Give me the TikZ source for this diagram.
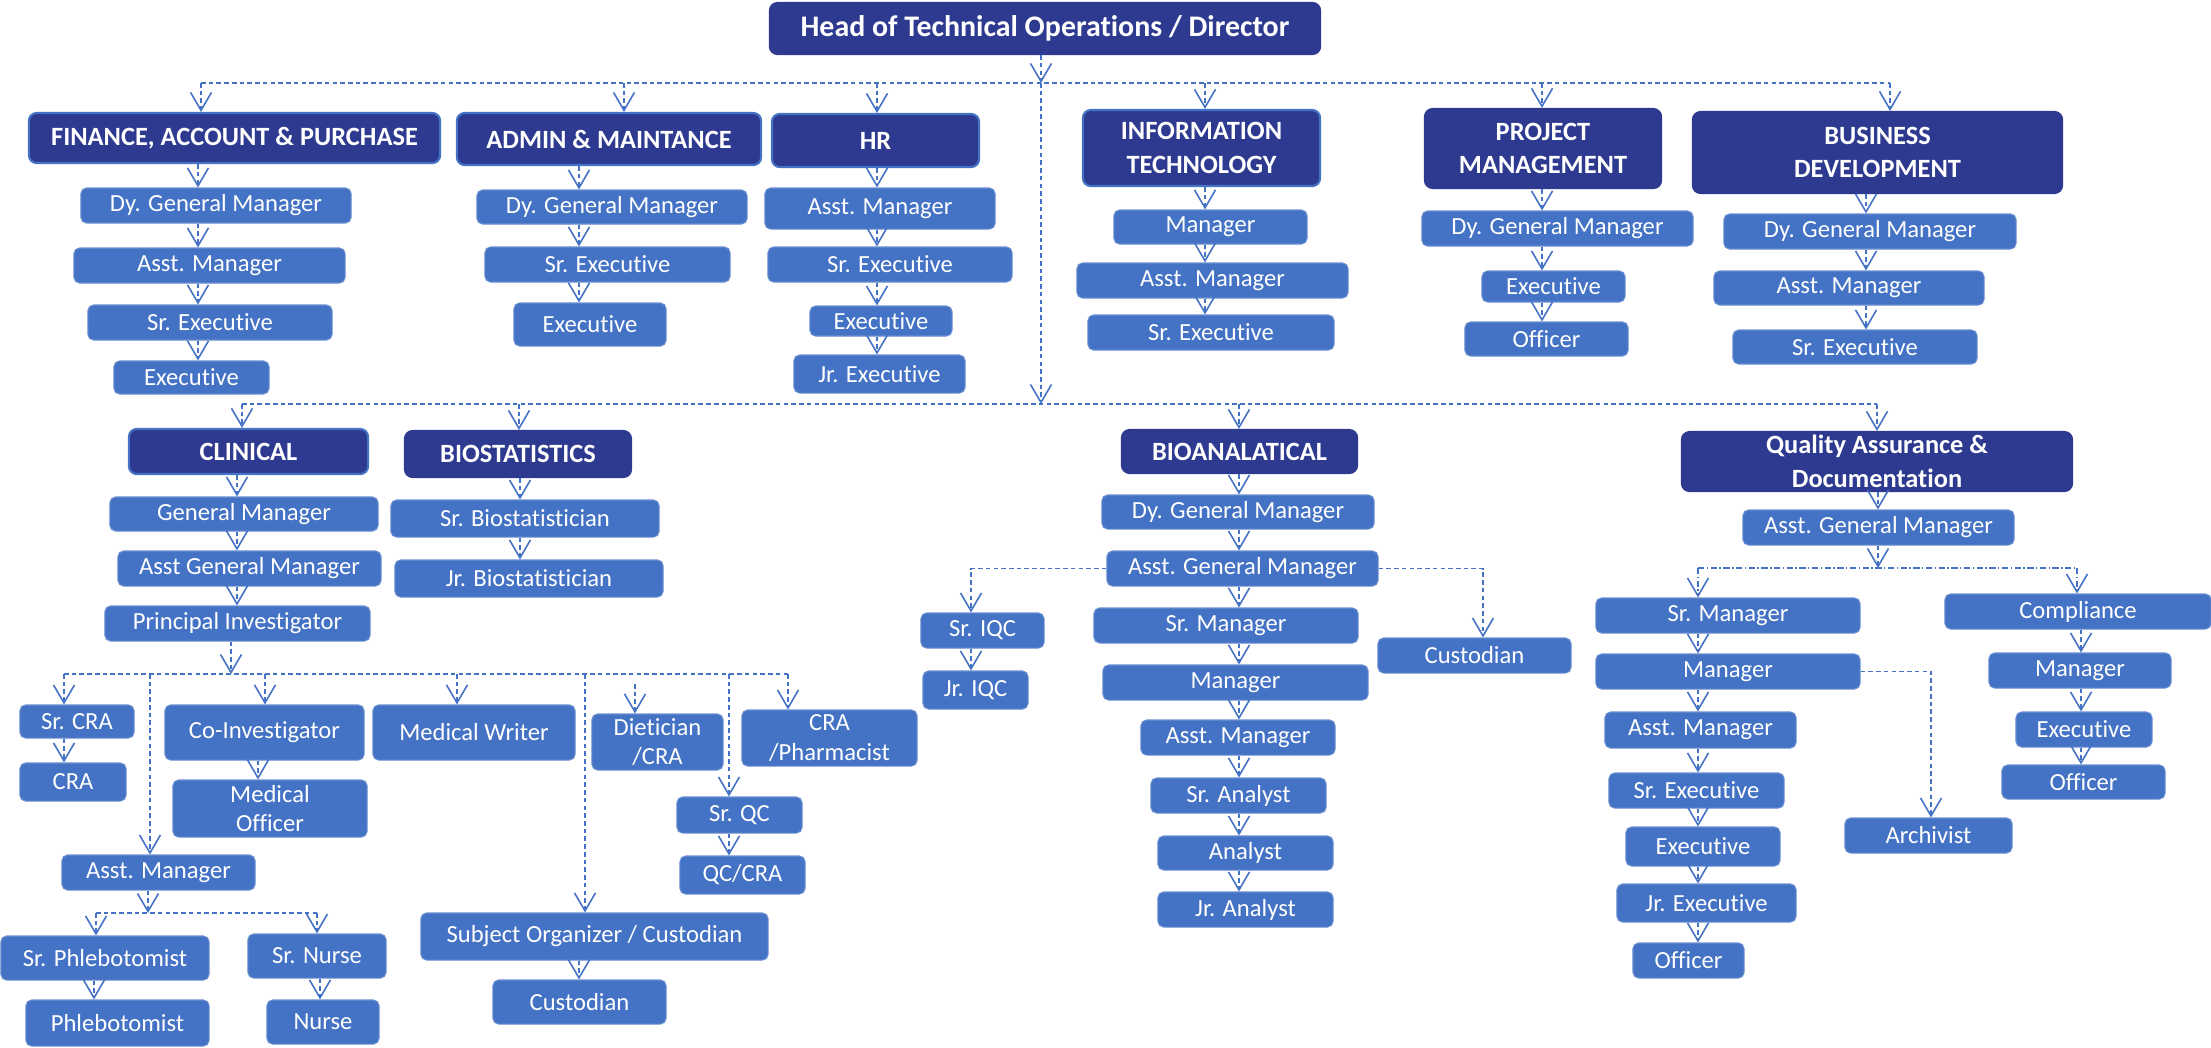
\documentclass[tikz,border=0pt]{standalone}
\usepackage{fontspec}
\setmainfont{Carlito}[Ligatures={NoCommon,NoContextual}]
\usetikzlibrary{arrows.meta}
\definecolor{navy}{HTML}{2E3A8F}
\definecolor{ofblue}{HTML}{4472C4}
\tikzset{
  post/.style={rounded corners=1.6pt,fill=ofblue,draw=ofblue!80!white,line width=0.3pt,text=white,
    font=\fontsize{7}{8.5}\selectfont,align=center,inner sep=0pt,minimum height=3.5mm},
  dept/.style={rounded corners=2.2pt,fill=navy,draw=navy,line width=0.6pt,text=white,
    font=\bfseries\fontsize{7.5}{9.5}\selectfont,align=center,inner sep=0pt},
  rim/.style={draw=ofblue},
  bus/.style={draw=ofblue,line width=0.4pt,dash pattern=on 1.3pt off 0.9pt},
  link/.style={bus,-{Straight Barb[length=1.8mm,width=2.1mm,line width=0.45pt]}},
}
\begin{document}
\begin{tikzpicture}[x=0.01cm,y=-0.01cm]
\useasboundingbox (0,0) rectangle (2211,1047);
%% director
\node[dept,minimum width=55cm/10,minimum height=5.1mm,font=\bfseries\fontsize{8.5}{10}\selectfont] (head) at (1045,28.5) {Head of Technical Operations / Director};
%% upper departments
\node[dept,rim,minimum width=41.1mm,minimum height=5mm] (fin) at (234.5,138) {FINANCE, ACCOUNT \& PURCHASE};
\node[dept,rim,minimum width=30.4mm,minimum height=5.2mm] (adm) at (609,139) {ADMIN \& MAINTANCE};
\node[dept,rim,minimum width=20.7mm,minimum height=5.3mm] (hr) at (875.5,140.5) {HR};
\node[dept,rim,minimum width=23.7mm,minimum height=7.6mm] (it) at (1201.5,148) {INFORMATION\\TECHNOLOGY};
\node[dept,minimum width=23.6mm,minimum height=7.9mm] (pm) at (1543,148.5) {PROJECT\\MANAGEMENT};
\node[dept,minimum width=36.9mm,minimum height=8.1mm] (bd) at (1877.5,152.5) {BUSINESS\\DEVELOPMENT};
%% finance
\node[post,minimum width=27mm] (fin1) at (216,205.5) {Dy. General Manager};
\node[post,minimum width=27.1mm] (fin2) at (209.5,265.5) {Asst. Manager};
\node[post,minimum width=24.4mm] (fin3) at (210,322.5) {Sr. Executive};
\node[post,minimum width=15.5mm,minimum height=3.3mm] (fin4) at (191.5,377.5) {Executive};
%% admin
\node[post,minimum width=27mm,minimum height=3.4mm] (adm1) at (612,207) {Dy. General Manager};
\node[post,minimum width=24.5mm] (adm2) at (607.5,264.5) {Sr. Executive};
\node[post,minimum width=15.2mm,minimum height=4.3mm] (adm3) at (590,324.5) {Executive};
%% hr
\node[post,minimum width=23mm,minimum height=4.1mm] (hr1) at (880,208.5) {Asst. Manager};
\node[post,minimum width=24.4mm] (hr2) at (890,264.5) {Sr. Executive};
\node[post,minimum width=14.2mm,minimum height=3mm] (hr3) at (881,321) {Executive};
\node[post,minimum width=17.1mm,minimum height=3.8mm] (hr4) at (879.5,374) {Jr. Executive};
%% it
\node[post,minimum width=19.3mm,minimum height=3.4mm] (it1) at (1210.5,227) {Manager};
\node[post,minimum width=27.1mm] (it2) at (1212.5,280.5) {Asst. Manager};
\node[post,minimum width=24.6mm] (it3) at (1211,332.5) {Sr. Executive};
%% project management
\node[post,minimum width=27.1mm] (pm1) at (1557.5,228.5) {Dy. General Manager};
\node[post,minimum width=14.3mm,minimum height=3.1mm] (pm2) at (1553.5,286.5) {Executive};
\node[post,minimum width=16.3mm,minimum height=3.4mm] (pm3) at (1546.5,339) {Officer};
%% business development
\node[post,minimum width=29.2mm] (bd1) at (1870,231.5) {Dy. General Manager};
\node[post,minimum width=27mm,minimum height=3.4mm] (bd2) at (1849,288) {Asst. Manager};
\node[post,minimum width=24.4mm,minimum height=3.4mm] (bd3) at (1855,347) {Sr. Executive};
%% lower departments
\node[dept,rim,minimum width=23.9mm,minimum height=4.5mm] (cli) at (248.5,451.5) {CLINICAL};
\node[dept,minimum width=22.6mm,minimum height=4.6mm] (bio) at (518,454) {BIOSTATISTICS};
\node[dept,minimum width=23.5mm,minimum height=4.3mm] (bioa) at (1239.5,451.5) {BIOANALATICAL};
\node[dept,minimum width=39mm,minimum height=5.9mm] (qa) at (1877,461.5) {Quality Assurance \&\\Documentation};
%% clinical
\node[post,minimum width=26.8mm,minimum height=3.4mm] (cli1) at (244,514) {General Manager};
\node[post,minimum width=26.3mm] (cli2) at (249.5,568.5) {Asst General Manager};
\node[post,minimum width=26.5mm] (cli3) at (237.5,623.5) {Principal Investigator};
\node[post,minimum width=11.4mm,minimum height=3.3mm] (scra) at (77,721.5) {Sr. CRA};
\node[post,minimum width=10.6mm,minimum height=3.8mm] (cra) at (73,782) {CRA};
\node[post,minimum width=19.9mm,minimum height=5.5mm] (coi) at (264.5,732.5) {Co-Investigator};
\node[post,minimum width=19.4mm,minimum height=5.7mm] (mo) at (270,808.5) {Medical\\Officer};
\node[post,minimum width=20.2mm,minimum height=5.5mm] (mw) at (474,732.5) {Medical Writer};
\node[post,minimum width=13.1mm,minimum height=5.6mm] (diet) at (657.5,742) {Dietician\\/CRA};
\node[post,minimum width=17.5mm,minimum height=5.6mm] (crap) at (829.5,738) {CRA\\/Pharmacist};
\node[post,minimum width=12.5mm,minimum height=3.6mm] (srqc) at (739.5,815) {Sr. QC};
\node[post,minimum width=12.5mm,minimum height=3.8mm] (qccra) at (742.5,875) {QC/CRA};
\node[post,minimum width=19.3mm] (am) at (158.5,872.5) {Asst. Manager};
\node[post,minimum width=20.8mm,minimum height=4.4mm] (sphl) at (105,958) {Sr. Phlebotomist};
\node[post,minimum width=13.8mm,minimum height=4.4mm] (snur) at (317,956) {Sr. Nurse};
\node[post,minimum width=18.3mm,minimum height=4.6mm] (phl) at (117.5,1023) {Phlebotomist};
\node[post,minimum width=11.2mm,minimum height=4.4mm] (nur) at (323,1022) {Nurse};
\node[post,minimum width=34.7mm,minimum height=4.7mm] (so) at (594.5,936.5) {Subject Organizer / Custodian};
\node[post,minimum width=17.3mm,minimum height=4.4mm] (cus) at (579.5,1002) {Custodian};
%% biostatistics
\node[post,minimum width=26.8mm,minimum height=3.7mm] (bs1) at (525,518.5) {Sr. Biostatistician};
\node[post,minimum width=26.8mm,minimum height=3.7mm] (bs2) at (529,578.5) {Jr. Biostatistician};
%% bioanalytical
\node[post,minimum width=27.2mm,minimum height=3.4mm] (ba1) at (1238,512) {Dy. General Manager};
\node[post,minimum width=27.1mm] (ba2) at (1242.5,568.5) {Asst. General Manager};
\node[post,minimum width=26.4mm] (ba3) at (1226,625.5) {Sr. Manager};
\node[post,minimum width=26.5mm] (ba4) at (1235.5,682.5) {Manager};
\node[post,minimum width=19.4mm] (ba5) at (1238,737.5) {Asst. Manager};
\node[post,minimum width=17.5mm] (ba6) at (1238.5,795.5) {Sr. Analyst};
\node[post,minimum width=17.5mm,minimum height=3.4mm] (ba7) at (1245.5,853) {Analyst};
\node[post,minimum width=17.5mm] (ba8) at (1245.5,909.5) {Jr. Analyst};
\node[post,minimum width=12.3mm] (iqc1) at (982.5,630.5) {Sr. IQC};
\node[post,minimum width=10.5mm,minimum height=3.8mm] (iqc2) at (975.5,690) {Jr. IQC};
\node[post,minimum width=19.3mm] (bcus) at (1474.5,655.5) {Custodian};
%% quality assurance
\node[post,minimum width=27.1mm] (qa1) at (1878.5,527.5) {Asst. General Manager};
\node[post,minimum width=26.4mm] (qa2) at (1728,615.5) {Sr. Manager};
\node[post,minimum width=26.4mm] (qa3) at (1728,671.5) {Manager};
\node[post,minimum width=19.1mm,minimum height=3.6mm] (qa4) at (1700.5,730) {Asst. Manager};
\node[post,minimum width=17.5mm] (qa5) at (1696.5,790.5) {Sr. Executive};
\node[post,minimum width=15.4mm,minimum height=3.9mm] (qa6) at (1703,846.5) {Executive};
\node[post,minimum width=17.9mm,minimum height=3.8mm] (qa7) at (1706.5,903) {Jr. Executive};
\node[post,minimum width=11.1mm] (qa8) at (1688.5,960.5) {Officer};
\node[post,minimum width=16.7mm] (arc) at (1928.5,835.5) {Archivist};
\node[post,minimum width=26.6mm] (comp) at (2078,611.5) {Compliance};
\node[post,minimum width=18.2mm] (cm1) at (2080,670.5) {Manager};
\node[post,minimum width=13.6mm] (cm2) at (2084,729.5) {Executive};
\node[post,minimum width=16.3mm,minimum height=3.4mm] (cm3) at (2083.5,782) {Officer};

%% top bus
\coordinate (t0) at (1041,83);
\coordinate (l0) at (1043,404);
\draw[link] (head.south -| t0) -- (t0);
\draw[link] (t0) -- (t0 |- l0);
\foreach \x/\n in {201/fin,624/adm,877/hr,1205/it,1542/pm,1890/bd}{
  \coordinate (d\n) at (\x,83);
  \draw[link] (d\n) -- (d\n |- \n.north);
}
\draw[bus] (dfin) -- (dbd);
%% lower bus
\foreach \x/\n in {242/cli,519/bio,1239/bioa,1877/qa}{
  \coordinate (d\n) at (\x,404);
  \draw[link] (d\n) -- (d\n |- \n.north);
}
\draw[bus] (dcli) -- (dqa);
%% columns
\coordinate (kfin) at (198,0);
\coordinate (kadm) at (579,0);
\coordinate (khr) at (877,0);
\coordinate (kit) at (1205,0);
\coordinate (kpm) at (1542,0);
\coordinate (kbd) at (1866,0);
\coordinate (kcli) at (237,0);
\coordinate (kbio) at (520,0);
\coordinate (kba) at (1239,0);
\coordinate (kqa) at (1698,0);
\coordinate (kcm) at (2081,0);
\foreach \a/\b/\k in {fin/fin1/kfin,fin1/fin2/kfin,fin2/fin3/kfin,fin3/fin4/kfin,
    adm/adm1/kadm,adm1/adm2/kadm,adm2/adm3/kadm,
    hr/hr1/khr,hr1/hr2/khr,hr2/hr3/khr,hr3/hr4/khr,
    it/it1/kit,it1/it2/kit,it2/it3/kit,
    pm/pm1/kpm,pm1/pm2/kpm,pm2/pm3/kpm,
    bd/bd1/kbd,bd1/bd2/kbd,bd2/bd3/kbd,
    cli/cli1/kcli,cli1/cli2/kcli,cli2/cli3/kcli,
    bio/bs1/kbio,bs1/bs2/kbio,
    bioa/ba1/kba,ba1/ba2/kba,ba2/ba3/kba,ba3/ba4/kba,ba4/ba5/kba,ba5/ba6/kba,ba6/ba7/kba,ba7/ba8/kba,
    qa2/qa3/kqa,qa3/qa4/kqa,qa4/qa5/kqa,qa5/qa6/kqa,qa6/qa7/kqa,qa7/qa8/kqa,
    comp/cm1/kcm,cm1/cm2/kcm,cm2/cm3/kcm}
  \draw[link] (\a.south -| \k) -- (\b.north -| \k);
%% clinical staff
\coordinate (pb) at (231,674);
\draw[link] (cli3.south -| pb) -- (pb);
\foreach \x/\n in {64/scra,150/am,265/coi,457/mw,585/so,729/srqc,788/crap}{
  \coordinate (c\n) at (\x,674);
  \draw[link] (c\n) -- (c\n |- \n.north);
}
\draw[bus] (cscra) -- (ccrap);
\coordinate (cdiet) at (635,684);
\draw[link] (cdiet) -- (cdiet |- diet.north);
\draw[link] (scra.south -| cscra) -- (cra.north -| cscra);
\coordinate (kmo) at (258,0);
\draw[link] (coi.south -| kmo) -- (mo.north -| kmo);
\draw[link] (srqc.south -| csrqc) -- (qccra.north -| csrqc);
\coordinate (kcus) at (579,0);
\draw[link] (so.south -| kcus) -- (cus.north -| kcus);
%% nursing
\coordinate (nb) at (148,913);
\draw[link] (am.south -| nb) -- (nb);
\coordinate (nsphl) at (96,913);
\coordinate (nsnur) at (317,913);
\draw[bus] (nsphl) -- (nsnur);
\draw[link] (nsphl) -- (nsphl |- sphl.north);
\draw[link] (nsnur) -- (nsnur |- snur.north);
\coordinate (kphl) at (94,0);
\coordinate (knur) at (320,0);
\draw[link] (sphl.south -| kphl) -- (phl.north -| kphl);
\draw[link] (snur.south -| knur) -- (nur.north -| knur);
%% bioanalytical side branches
\coordinate (kiqc) at (971,0);
\coordinate (kbcus) at (1483,0);
\draw[link] (ba2.west) -| (iqc1.north -| kiqc);
\draw[link] (iqc1.south -| kiqc) -- (iqc2.north -| kiqc);
\draw[link] (ba2.east) -| (bcus.north -| kbcus);
%% quality assurance
\coordinate (qb) at (1878,568);
\draw[link] (qa.south -| qb) -- (qa1.north -| qb);
\draw[link] (qa1.south -| qb) -- (qb);
\coordinate (qqa2) at (1698,568);
\coordinate (qcomp) at (2077,568);
\draw[bus,dash pattern=on 1.8pt off 0.7pt on 0.4pt off 0.7pt] (qqa2) -- (qcomp);
\draw[link,dash pattern=on 1.8pt off 0.7pt on 0.4pt off 0.7pt] (qqa2) -- (qqa2 |- qa2.north);
\draw[link,dash pattern=on 1.8pt off 0.7pt on 0.4pt off 0.7pt] (qcomp) -- (qcomp |- comp.north);
\coordinate (karc) at (1931,0);
\draw[link] (qa3.east) -| (arc.north -| karc);
\end{tikzpicture}
\end{document}
